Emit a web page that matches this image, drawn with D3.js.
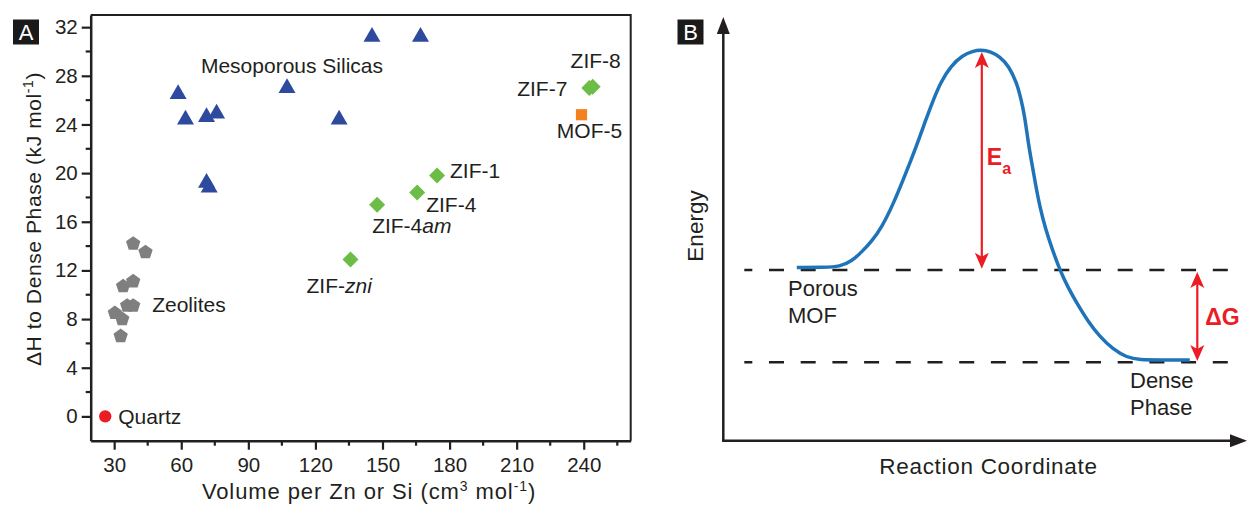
<!DOCTYPE html>
<html>
<head>
<meta charset="utf-8">
<script src="https://cdn.jsdelivr.net/npm/d3@7"></script>
<style>
  body { margin: 0; background: #fff; }
  svg { display: block; font-family: "Liberation Sans", Arial, sans-serif; }
</style>
</head>
<body>
<div id="chart"></div>
<script>
// ---- panel A data (volume per Zn/Si, dH to dense phase) ----
var quartzVol = [26];
var quartzDH = [0];
var zeoliteVol = [38.5, 44, 34, 38.5, 35.8, 38.5, 30.3, 33.6, 32.9];
var zeoliteDH = [14.2, 13.5, 10.7, 11.1, 9.1, 9.1, 8.5, 8.0, 6.6];
var silicaVol = [58.6, 61.9, 71.3, 75.8, 71.3, 72.5, 107.3, 145.3, 167.0, 130.6];
var silicaDH = [26.5, 24.4, 24.6, 24.9, 19.2, 18.8, 27.0, 31.2, 31.2, 24.4];
var zifNames = ["ZIF-8", "ZIF-7", "ZIF-1", "ZIF-4", "ZIF-4am", "ZIF-zni"];
var zifVol = [244, 242.5, 174.4, 165.5, 147.6, 135.7];
var zifDH = [27.1, 27.0, 19.8, 18.4, 17.4, 12.9];
var mofVol = [239];
var mofDH = [24.8];
var xTicks = [30, 60, 90, 120, 150, 180, 210, 240];
var xMinor = [45, 75, 105, 135, 165, 195, 225, 255];
var yTicks = [0, 4, 8, 12, 16, 20, 24, 28, 32];
var yMinor = [2, 6, 10, 14, 18, 22, 26, 30];

// ---- panel B data (reaction coordinate vs energy, arbitrary units) ----
var coordX = [14.7, 20.3, 23.3, 25.7, 27.7, 29.7, 31.7, 33.9, 36.3, 38.7, 40.5, 41.9,
  43.5, 45.5, 47.9, 49.9, 51.5, 53.5, 55.3, 57.1, 58.7, 59.5, 60.3, 60.9, 61.7, 62.5,
  63.3, 64.5, 65.7, 67.3, 68.9, 70.7, 72.9, 75.3, 77.9, 80.7, 83.3, 87.3, 93.3];
var energyY = [43.3, 43.3, 43.5, 44.9, 47.2, 49.9, 53.4, 58.9, 66.2, 73.9, 80.2, 84.9,
  89.7, 93.7, 96.4, 97.4, 97.7, 97.3, 96.0, 93.7, 89.4, 85.7, 81.0, 75.2, 69.4, 63.7,
  58.5, 52.7, 48.2, 42.7, 38.4, 34.4, 29.9, 26.0, 22.9, 20.8, 20.2, 20.2, 20.2];
var porousLevel = 42.7;
var denseLevel = 19.6;
var peakLevel = 97.7;
var peakCoord = 51.7;
var dGCoord = 94.8;

var width = 1248,
  height = 507;

var svg = d3
  .select("#chart")
  .append("svg")
  .attr("width", width)
  .attr("height", height);

var ink = "#231f20";

// ================= PANEL A =================
var xA = d3.scaleLinear().domain([19.5, 261]).range([90.7, 630.7]);
var yA = d3.scaleLinear().domain([-2, 33]).range([440.7, 15]);

var gA = svg.append("g");

// frame top/right
gA.append("path")
  .attr("d", "M" + xA.range()[0] + "," + yA.range()[1] + "H" + xA.range()[1] + "V" + yA.range()[0])
  .attr("fill", "none")
  .attr("stroke", ink)
  .attr("stroke-width", 2);

var xAxisA = d3.axisBottom(xA).tickValues(xTicks).tickSize(9).tickPadding(8);
var yAxisA = d3.axisLeft(yA).tickValues(yTicks).tickSize(9).tickPadding(4);

function styleAxis(g) {
  g.select(".domain").attr("stroke", ink).attr("stroke-width", 2.5);
  g.selectAll(".tick line").attr("stroke", ink).attr("stroke-width", 2.2);
  g.selectAll(".tick text")
    .attr("fill", ink)
    .style("font-size", "20.5px")
    .style("font-family", "'Liberation Sans', Arial, sans-serif");
}

gA.append("g")
  .attr("transform", "translate(0," + yA.range()[0] + ")")
  .call(xAxisA.tickSizeOuter(0))
  .call(styleAxis);

gA.append("g")
  .attr("transform", "translate(" + xA.range()[0] + ",0)")
  .call(yAxisA.tickSizeOuter(0))
  .call(styleAxis);

// minor ticks
gA.selectAll(".xminor")
  .data(xMinor)
  .enter()
  .append("line")
  .attr("x1", (d) => xA(d))
  .attr("x2", (d) => xA(d))
  .attr("y1", yA.range()[0])
  .attr("y2", yA.range()[0] + 5)
  .attr("stroke", ink)
  .attr("stroke-width", 2.2);

gA.selectAll(".yminor")
  .data(yMinor)
  .enter()
  .append("line")
  .attr("y1", (d) => yA(d))
  .attr("y2", (d) => yA(d))
  .attr("x1", xA.range()[0])
  .attr("x2", xA.range()[0] - 5)
  .attr("stroke", ink)
  .attr("stroke-width", 2.2);

// axis titles
var yTitle = gA.append("text")
  .attr("transform", "translate(41,219) rotate(-90)")
  .attr("text-anchor", "middle")
  .attr("fill", ink)
  .style("font-size", "21px")
  .style("letter-spacing", "0.6px");
yTitle.append("tspan").text("\u0394H to Dense Phase (kJ mol");
yTitle.append("tspan").attr("dy", -8).style("font-size", "14px").text("-1");
yTitle.append("tspan").attr("dy", 8).text(")");

var xTitle = gA.append("text")
  .attr("x", 369)
  .attr("y", 499)
  .attr("text-anchor", "middle")
  .attr("fill", ink)
  .style("font-size", "22px")
  .style("letter-spacing", "0.9px");
xTitle.append("tspan").text("Volume per Zn or Si (cm");
xTitle.append("tspan").attr("dy", -8).style("font-size", "14px").text("3");
xTitle.append("tspan").attr("dy", 8).text(" mol");
xTitle.append("tspan").attr("dy", -8).style("font-size", "14px").text("-1");
xTitle.append("tspan").attr("dy", 8).text(")");

// symbols
var symbolPentagon = {
  draw: function (context, size) {
    var r = Math.sqrt(size / 2.3776);
    for (var i = 0; i < 5; i++) {
      var a = -Math.PI / 2 + (i * 2 * Math.PI) / 5;
      if (i === 0) context.moveTo(r * Math.cos(a), r * Math.sin(a));
      else context.lineTo(r * Math.cos(a), r * Math.sin(a));
    }
    context.closePath();
  }
};

function plotSeries(vol, dh, type, size, fill, rotate) {
  gA.append("g")
    .selectAll("path")
    .data(vol.map((v, i) => ({ v: v, h: dh[i] })))
    .enter()
    .append("path")
    .attr("d", d3.symbol().type(type).size(size))
    .attr("transform", (d) => "translate(" + xA(d.v) + "," + yA(d.h) + ")" + (rotate ? " rotate(45)" : ""))
    .attr("fill", fill);
}

plotSeries(zeoliteVol, zeoliteDH, symbolPentagon, 135, "#7f7f7f", false);
plotSeries(silicaVol, silicaDH, d3.symbolTriangle, 125, "#2e4a9f", false);
plotSeries(zifVol, zifDH, d3.symbolSquare, 128, "#6cbd45", true);
plotSeries(mofVol, mofDH, d3.symbolSquare, 125, "#f38120", false);
plotSeries(quartzVol, quartzDH, d3.symbolCircle, 120, "#ec1c24", false);

// point labels
function label(x, y, anchor) {
  return gA.append("text")
    .attr("x", x)
    .attr("y", y)
    .attr("text-anchor", anchor || "start")
    .attr("fill", ink)
    .style("font-size", "21px");
}

label(xA(quartzVol[0]) + 13, yA(quartzDH[0]) + 7.5).text("Quartz");
label(xA(zeoliteVol[5]) + 19, yA(zeoliteDH[5]) + 6).text("Zeolites");
label(xA(68.8), yA(28.2)).text("Mesoporous Silicas");
label(xA(zifVol[0]) + 3, yA(zifDH[0]) - 19, "middle").text(zifNames[0]);
label(xA(zifVol[1]) - 22, yA(zifDH[1]) + 8, "end").text(zifNames[1]);
label(xA(mofVol[0]) + 8, yA(mofDH[0]) + 23, "middle").text("MOF-5");
label(xA(zifVol[2]) + 13, yA(zifDH[2]) + 2).text(zifNames[2]);
label(xA(zifVol[3]) + 9, yA(zifDH[3]) + 19).text(zifNames[3]);
var l4am = label(xA(zifVol[4]) - 5, yA(zifDH[4]) + 28);
l4am.append("tspan").text("ZIF-4");
l4am.append("tspan").style("font-style", "italic").text("am");
var lzni = label(xA(zifVol[5]) - 44, yA(zifDH[5]) + 34);
lzni.append("tspan").text("ZIF-");
lzni.append("tspan").style("font-style", "italic").text("zni");

// panel letter
function panelLetter(x, y, t) {
  svg.append("rect").attr("x", x).attr("y", y).attr("width", 26).attr("height", 25).attr("fill", "#1a1a1a");
  svg.append("text")
    .attr("x", x + 13)
    .attr("y", y + 20.5)
    .attr("text-anchor", "middle")
    .attr("fill", "#fff")
    .style("font-size", "22px")
    .text(t);
}
panelLetter(13, 19.5, "A");

// ================= PANEL B =================
var xB = d3.scaleLinear().domain([0, 100]).range([723.3, 1223.3]);
var yB = d3.scaleLinear().domain([0, 100]).range([440.7, 40.7]);

var gB = svg.append("g");

// axes with arrows
gB.append("line")
  .attr("x1", xB(0)).attr("x2", xB(0))
  .attr("y1", yB(0) + 1).attr("y2", 30)
  .attr("stroke", ink).attr("stroke-width", 2.5);
gB.append("path")
  .attr("d", "M" + xB(0) + ",17 l-6.5,17 l13,0 z")
  .attr("fill", ink);
gB.append("line")
  .attr("x1", xB(0) - 1).attr("x2", 1233)
  .attr("y1", yB(0)).attr("y2", yB(0))
  .attr("stroke", ink).attr("stroke-width", 2.5);
gB.append("path")
  .attr("d", "M1247," + yB(0) + " l-17,-6.5 l0,13 z")
  .attr("fill", ink);

// dashed reference levels
[porousLevel, denseLevel].forEach(function (lv) {
  gB.append("line")
    .attr("x1", xB(4.2)).attr("x2", xB(101))
    .attr("y1", yB(lv)).attr("y2", yB(lv))
    .attr("stroke", ink)
    .attr("stroke-width", 2.5)
    .attr("stroke-dasharray", "15,16.7")
    .attr("stroke-dashoffset", 7);
});

// energy curve
var line = d3.line()
  .x((d) => xB(d[0]))
  .y((d) => yB(d[1]))
  .curve(d3.curveBasis);

gB.append("path")
  .datum(coordX.map((c, i) => [c, energyY[i]]))
  .attr("d", line)
  .attr("fill", "none")
  .attr("stroke", "#1f74b9")
  .attr("stroke-width", 3.5)
  .attr("stroke-linecap", "butt");

// double arrows in red
var red = "#ec1c24";
function doubleArrow(c, top, bottom) {
  var x = xB(c), y1 = yB(top), y2 = yB(bottom);
  gB.append("line")
    .attr("x1", x).attr("x2", x)
    .attr("y1", y1 + 10).attr("y2", y2 - 10)
    .attr("stroke", red).attr("stroke-width", 2.2);
  gB.append("path").attr("d", "M" + x + "," + y1 + " l-7,16 l7,-4 l7,4 z").attr("fill", red);
  gB.append("path").attr("d", "M" + x + "," + y2 + " l-7,-16 l7,4 l7,-4 z").attr("fill", red);
}
doubleArrow(peakCoord, peakLevel - 0.5, porousLevel + 0.3);
doubleArrow(dGCoord, porousLevel - 0.5, denseLevel + 0.3);

var ea = gB.append("text")
  .attr("x", xB(peakCoord) + 5)
  .attr("y", 165)
  .attr("fill", red)
  .style("font-size", "23px")
  .style("font-weight", "bold");
ea.append("tspan").text("E");
ea.append("tspan").attr("dy", 9).style("font-size", "16px").text("a");

gB.append("text")
  .attr("x", xB(dGCoord) + 8)
  .attr("y", 325)
  .attr("fill", red)
  .style("font-size", "23px")
  .style("font-weight", "bold")
  .text("\u0394G");

// state labels
function stateLabel(x, y, lines) {
  var t = gB.append("text").attr("fill", ink).style("font-size", "22px");
  lines.forEach(function (s, i) {
    t.append("tspan").attr("x", x).attr("y", y + i * 27).text(s);
  });
}
stateLabel(788, 295.5, ["Porous", "MOF"]);
stateLabel(1130, 388, ["Dense", "Phase"]);

gB.append("text")
  .attr("x", 988.5)
  .attr("y", 473.5)
  .attr("text-anchor", "middle")
  .attr("fill", ink)
  .style("font-size", "22.5px")
  .style("letter-spacing", "0.7px")
  .text("Reaction Coordinate");

gB.append("text")
  .attr("transform", "translate(703,226) rotate(-90)")
  .attr("text-anchor", "middle")
  .attr("fill", ink)
  .style("font-size", "22.5px")
  .text("Energy");

panelLetter(677.5, 19.5, "B");
</script>
</body>
</html>
